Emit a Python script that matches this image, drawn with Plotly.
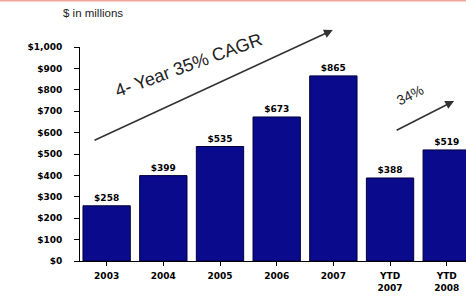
import plotly.graph_objects as go

categories = ["2003", "2004", "2005", "2006", "2007", "YTD<br>2007", "YTD<br>2008"]
revenue = [258, 399, 535, 673, 865, 388, 519]
bar_labels = ["$258", "$399", "$535", "$673", "$865", "$388", "$519"]
ytick_vals = [0, 100, 200, 300, 400, 500, 600, 700, 800, 900, 1000]
ytick_text = ["$0", "$100", "$200", "$300", "$400", "$500", "$600", "$700", "$800", "$900", "$1,000"]

W, H = 466, 298
ML, MR, MT, MB = 80, 0, 47, 37
PH = H - MT - MB

def py(pix):
    return 1 + (MT - pix) / PH

x = list(range(len(categories)))

fig = go.Figure()
fig.add_trace(go.Bar(
    x=x, y=revenue,
    marker=dict(color="#0a0a8c", line=dict(color="#00003a", width=1)),
    text=bar_labels, textposition="outside",
    textfont=dict(family="DejaVu Sans", size=9, color="#000000", weight="bold"),
    cliponaxis=False,
))

fig.update_layout(
    width=W, height=H,
    margin=dict(l=ML, r=MR, t=MT, b=MB),
    paper_bgcolor="white", plot_bgcolor="white",
    showlegend=False, bargap=0.165,
    xaxis=dict(
        range=[-0.47, 6.34], tickmode="array", tickvals=x, ticktext=categories,
        tickson="boundaries", ticks="outside", ticklen=4, tickcolor="#000",
        showline=True, linecolor="#000", linewidth=1, showgrid=False,
        zeroline=False, automargin=False, ticklabelstandoff=2,
        tickfont=dict(family="DejaVu Sans", size=9, color="#000", weight="bold"),
    ),
    yaxis=dict(
        range=[0, 1000], tickmode="array", tickvals=ytick_vals, ticktext=ytick_text,
        ticks="outside", ticklen=5, tickcolor="#000",
        showline=True, linecolor="#000", linewidth=1, showgrid=False,
        zeroline=False, automargin=False, ticklabelstandoff=10,
        tickfont=dict(family="DejaVu Sans", size=9, color="#000", weight="bold"),
    ),
)

# top pink rule
fig.add_shape(type="line", xref="paper", yref="paper",
              x0=-ML / (W - ML - MR), x1=1, y0=py(0.7), y1=py(0.7),
              line=dict(color="#f2a59c", width=1.5))

# units label
fig.add_annotation(xref="paper", yref="paper", x=(61 - ML) / (W - ML - MR), y=py(13),
                   xanchor="left", yanchor="middle", showarrow=False,
                   text="$ in millions",
                   font=dict(family="Liberation Sans", size=11.5, color="#222"))

# CAGR arrow
fig.add_annotation(x=3.99, y=1079, ax=-0.24, ay=561, xref="x", yref="y",
                   axref="x", ayref="y", showarrow=True, text="",
                   arrowhead=2, arrowsize=1.1, arrowwidth=1.6, arrowcolor="#333")
fig.add_annotation(x=1.45, y=916, xref="x", yref="y", showarrow=False,
                   text="4- Year 35% CAGR", textangle=-20,
                   font=dict(family="Liberation Sans", size=18, color="#222"))

# 34% arrow
fig.add_annotation(x=6.13, y=748, ax=5.09, ay=607, xref="x", yref="y",
                   axref="x", ayref="y", showarrow=True, text="",
                   arrowhead=2, arrowsize=1.1, arrowwidth=1.6, arrowcolor="#333")
fig.add_annotation(x=5.35, y=776, xref="x", yref="y", showarrow=False,
                   text="34%", textangle=-27,
                   font=dict(family="Liberation Sans", size=14, color="#222"))

fig.write_html("out.html", config={"displayModeBar": False},
               post_script="document.body.style.margin='0';document.body.style.overflow='hidden';")
